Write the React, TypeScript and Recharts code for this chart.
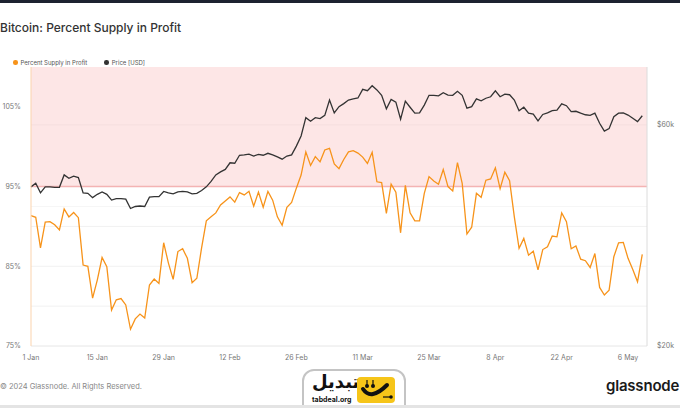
import {
  ComposedChart,
  Line,
  XAxis,
  YAxis,
  ReferenceArea,
  ReferenceLine,
} from 'recharts'

// daily values, 1 Jan 2024 .. 8 May 2024
const supplyInProfit = [
  91.35, 91.15, 87.3, 90.55, 90.6, 90.2, 89.55, 92.2, 91.2, 91.75,
  91.1, 85.15, 85.0, 81.0, 83.3, 86.1, 84.95, 79.5, 80.8, 80.95,
  80.15, 77.1, 78.4, 79.0, 78.5, 82.65, 83.4, 82.85, 87.95, 85.4,
  83.35, 86.85, 87.2, 86.0, 82.95, 83.5, 87.3, 90.7, 91.2, 91.7,
  92.7, 93.2, 93.7, 93.05, 94.25, 93.95, 94.4, 92.55, 94.3, 92.4,
  94.4, 93.3, 91.2, 90.15, 92.4, 93.0, 94.8, 96.45, 99.35, 97.65,
  98.75, 98.1, 99.6, 99.8, 97.85, 97.25, 98.4, 99.35, 99.5, 99.2,
  98.7, 97.9, 99.3, 95.6, 95.5, 91.65, 95.3, 94.3, 89.2, 95.15,
  91.7, 90.7, 90.7, 94.15, 96.25, 95.7, 95.3, 97.15, 95.0, 94.45,
  98.0, 95.4, 89.05, 89.9, 94.15, 93.65, 95.8, 95.95, 97.35, 94.75,
  96.8, 95.75, 91.2, 87.25, 88.5, 86.4, 86.9, 84.55, 87.1, 87.45,
  88.8, 88.7, 91.7, 90.6, 87.2, 87.55, 85.9, 85.7, 84.85, 86.6,
  82.35, 81.4, 82.0, 86.2, 87.95, 88.0, 86.0, 84.6, 83.05, 86.5,
]

const priceUsd = [
  44100, 44900, 42800, 44100, 44100, 44000, 44000, 46800, 46000, 46500,
  46200, 42800, 42700, 41800, 42500, 43000, 42500, 41300, 41600, 41600,
  41500, 39600, 40000, 40100, 40000, 41900, 42000, 42000, 43100, 42800,
  42600, 43000, 43100, 43000, 42600, 42700, 43300, 44100, 45300, 46800,
  47500, 48100, 49700, 49600, 51600, 51700, 51900, 51400, 51800, 51600,
  52100, 51700, 51200, 50600, 51400, 51700, 54000, 56800, 62200, 61100,
  62200, 61900, 62900, 67900, 63700, 65700, 66700, 67900, 68300, 68600,
  71600, 71100, 72900, 71400, 69500, 65000, 68100, 67200, 61700, 67500,
  65500, 63600, 63700, 66200, 69500, 69500, 69300, 70400, 69600, 69500,
  70900, 69500, 65200, 65700, 68300, 67600, 68500, 69000, 71100, 69000,
  69900, 69700, 67900, 64400, 65500, 63600, 63300, 61200, 63200, 63700,
  64400, 64600, 66600, 66000, 64100, 64200, 63600, 63100, 62900, 63600,
  60500, 58200, 58900, 62500, 63600, 63700, 63000, 62000, 61000, 62800,
]

const tickDays = [0, 14, 28, 42, 56, 70, 84, 98, 112, 126]
const tickLabels = ['1 Jan', '15 Jan', '29 Jan', '12 Feb', '26 Feb', '11 Mar', '25 Mar', '8 Apr', '22 Apr', '6 May']
const leftTicks = [75, 85, 95, 105]
const rightTicks = [20000, 60000]
const leftGrid = [80, 85, 90]
const rightGrid = [40000, 60000]

const data = supplyInProfit.map((v, i) => ({ day: i, supply: v, price: priceUsd[i] }))

const ORANGE = '#f7931a'
const DARK = '#333333'
const FONT = 'Inter, "Open Sans", sans-serif'
const tickStyle = { fontSize: 7, fill: '#777', fontFamily: FONT }

function TabdealMark() {
  return (
    <div
      style={{
        position: 'absolute',
        left: 302,
        top: 369,
        width: 100,
        height: 45,
        border: '2px solid #c4c4c4',
        borderRadius: 12,
        background: '#fff',
      }}
    >
      <div
        style={{
          position: 'absolute',
          left: 8,
          top: 0,
          fontFamily: '"DejaVu Sans", sans-serif',
          fontWeight: 700,
          fontSize: 18,
          color: '#111',
          direction: 'rtl',
        }}
      >
        تبدیل
      </div>
      <div
        style={{
          position: 'absolute',
          left: 8,
          top: 24,
          fontFamily: FONT,
          fontWeight: 700,
          fontSize: 7,
          color: '#111',
        }}
      >
        tabdeal.org
      </div>
      <svg width={38} height={26} style={{ position: 'absolute', left: 53, top: 6 }}>
        <rect x={0} y={0} width={38} height={26} rx={4} fill="#f6c519" />
        <line x1={10} y1={3} x2={10} y2={8} stroke="#111" strokeWidth={1.2} />
        <line x1={16} y1={3} x2={16} y2={8} stroke="#111" strokeWidth={1.2} />
        <circle cx={10} cy={9} r={2} fill="#111" />
        <circle cx={16} cy={9} r={2} fill="#111" />
        <path d="M6 12 Q14 24 30 8" stroke="#111" strokeWidth={4} fill="none" strokeLinecap="round" />
        <line x1={26} y1={20} x2={33} y2={20} stroke="#111" strokeWidth={1.2} />
        <circle cx={34} cy={20} r={1.8} fill="#111" />
      </svg>
    </div>
  )
}

export default function App() {
  return (
    <div
      style={{
        position: 'absolute',
        left: 0,
        top: 0,
        width: 680,
        height: 408,
        background: '#fff',
        overflow: 'hidden',
        fontFamily: FONT,
      }}
    >
      <div style={{ position: 'absolute', left: 0, top: 0, width: 680, height: 3, background: '#1c2230' }} />
      <div
        style={{
          position: 'absolute',
          left: 0,
          top: 20,
          fontSize: 12,
          color: '#333',
          fontWeight: 500,
          whiteSpace: 'nowrap',
        }}
      >
        Bitcoin: Percent Supply in Profit
      </div>

      {/* legend */}
      <div style={{ position: 'absolute', left: 13, top: 59, display: 'flex', alignItems: 'center', fontSize: 6, color: '#555' }}>
        <span style={{ width: 4.5, height: 4.5, borderRadius: '50%', background: ORANGE, marginRight: 3 }} />
        <span>Percent Supply in Profit</span>
        <span style={{ width: 4.5, height: 4.5, borderRadius: '50%', background: DARK, marginLeft: 17, marginRight: 3 }} />
        <span>Price [USD]</span>
      </div>

      <div style={{ position: 'absolute', left: 0, top: 0 }}>
        <ComposedChart width={680} height={408} data={data} margin={{ top: 67, right: 0, bottom: 42, left: 0 }}>
          <XAxis
            dataKey="day"
            type="number"
            domain={[0, 130]}
            ticks={tickDays}
            tickFormatter={(d: number) => tickLabels[tickDays.indexOf(d)] ?? ''}
            height={20}
            tick={tickStyle}
            tickLine={false}
            tickSize={4}
            tickMargin={5}
            axisLine={{ stroke: '#e6e6e6' }}
            interval={0}
          />
          <YAxis
            yAxisId="left"
            orientation="left"
            width={31}
            domain={[75, 110]}
            ticks={leftTicks}
            tickFormatter={(v: number) => `${v}%`}
            tick={tickStyle}
            tickLine={false}
            tickSize={4}
            tickMargin={6}
            axisLine={{ stroke: '#fbd3ad' }}
            allowDataOverflow
          />
          <YAxis
            yAxisId="right"
            orientation="right"
            width={33}
            scale="log"
            domain={[20000, 80000]}
            ticks={rightTicks}
            tickFormatter={(v: number) => `$${v / 1000}k`}
            tick={{ ...tickStyle, textAnchor: 'start' }}
            tickLine={false}
            tickSize={4}
            tickMargin={6}
            axisLine={{ stroke: '#dcdcdc' }}
            allowDataOverflow
          />
          <ReferenceArea yAxisId="left" y1={95} y2={110} fill="#fde6e6" fillOpacity={1} stroke="none" />
          {leftGrid.map((v) => (
            <ReferenceLine key={`l${v}`} yAxisId="left" y={v} stroke="#f1f1f1" strokeWidth={1} />
          ))}
          {rightGrid.map((v) => (
            <ReferenceLine key={`r${v}`} yAxisId="right" y={v} stroke="#000" strokeOpacity={0.035} strokeWidth={1} />
          ))}
          <ReferenceLine yAxisId="left" y={95} stroke="#f4b3b3" strokeWidth={1.5} />
          <Line
            yAxisId="left"
            dataKey="supply"
            type="linear"
            stroke={ORANGE}
            strokeWidth={1.3}
            dot={false}
            isAnimationActive={false}
          />
          <Line
            yAxisId="right"
            dataKey="price"
            type="linear"
            stroke={DARK}
            strokeWidth={1.3}
            dot={false}
            isAnimationActive={false}
          />
        </ComposedChart>
      </div>

      {/* footer */}
      <div style={{ position: 'absolute', left: 0, top: 382, fontSize: 7.5, color: '#888', whiteSpace: 'nowrap' }}>
        © 2024 Glassnode. All Rights Reserved.
      </div>
      <div
        style={{
          position: 'absolute',
          left: 606,
          top: 376,
          fontSize: 15,
          fontWeight: 600,
          color: '#1a1a1a',
          letterSpacing: -0.2,
          whiteSpace: 'nowrap',
        }}
      >
        glassnode
      </div>
      <TabdealMark />
      <div style={{ position: 'absolute', left: 0, top: 405, width: 680, height: 3, background: '#e4e4e4' }} />
    </div>
  )
}
